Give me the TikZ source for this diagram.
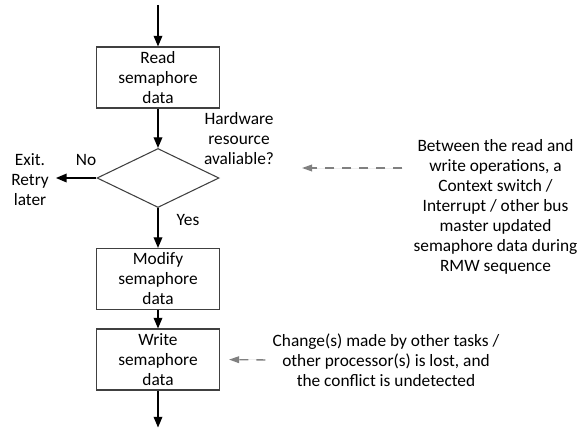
\documentclass[tikz,border=0pt]{standalone}
\usepackage{fontspec}
\setmainfont{Carlito}
\usepackage{tikz}
\usetikzlibrary{positioning,arrows.meta,shapes.geometric}
\tikzset{process/.style={draw=black!75,line width=0.8pt,rectangle,minimum width=92.25pt,minimum height=45.75pt,inner sep=0pt,align=center,font=\fontsize{13}{15}\selectfont}}
\tikzset{decision/.style={draw=black!75,line width=0.8pt,diamond,minimum width=91.5pt,minimum height=44.25pt,inner sep=0pt}}
\tikzset{label/.style={align=center,inner sep=0pt,font=\fontsize{13}{15}\selectfont}}
\tikzset{flow/.style={line width=1pt,-{Triangle[length=8pt,width=6.5pt]}}}
\tikzset{notearrow/.style={draw=black!50,fill=black!50,line width=1pt,dash pattern=on 6.75pt off 6pt,-{Triangle[length=7.5pt,width=5pt]}}}

\begin{document}
\begin{tikzpicture}[x=0.75pt,y=-0.75pt]
  \useasboundingbox (0,0) rectangle (580,428);

  % Flow
  \coordinate (start) at (158,5);
  \node[process] (read) at (158,77.5) {Read\\semaphore\\data};
  \node[decision] (avail) at (158,178) {};
  \node[process] (modify) at (158,279) {Modify\\semaphore\\data};
  \node[process] (write) at (158,359.5) {Write\\semaphore\\data};
  \coordinate (stop) at (158,427.5);
  \node[label] (exit) at (30,180) {Exit.\\Retry\\later};

  \draw[flow] (start) -- (read);
  \draw[flow] (read) -- (avail);
  \draw[flow] (avail) -- (modify);
  \draw[flow] (modify) -- (write);
  \draw[flow] (write) -- (stop);
  \draw[flow,shorten >=5.25pt] (avail.west) -- (exit.east |- avail.west);

  \node[label] (question) at (239,138.5) {Hardware\\resource\\avaliable?};
  \node[label] (no) at (86,160) {No};
  \node[label] (yes) at (188,220) {Yes};

  % Notes
  \node[label] (note1) at (495.5,207) {Between the read and\\write operations, a\\Context switch /\\Interrupt / other bus\\master updated\\semaphore data during\\RMW sequence};
  \node[label] (note2) at (386,360) {Change(s) made by other tasks /\\other processor(s) is lost, and\\the conflict is undetected};
  \coordinate (conflict) at (302,168);

  \draw[notearrow,shorten <=8.25pt] (note1.west |- conflict) -- (conflict);
  \draw[notearrow,shorten <=5.25pt,shorten >=6.75pt] (note2.west) -- (write.east);

\end{tikzpicture}
\end{document}
